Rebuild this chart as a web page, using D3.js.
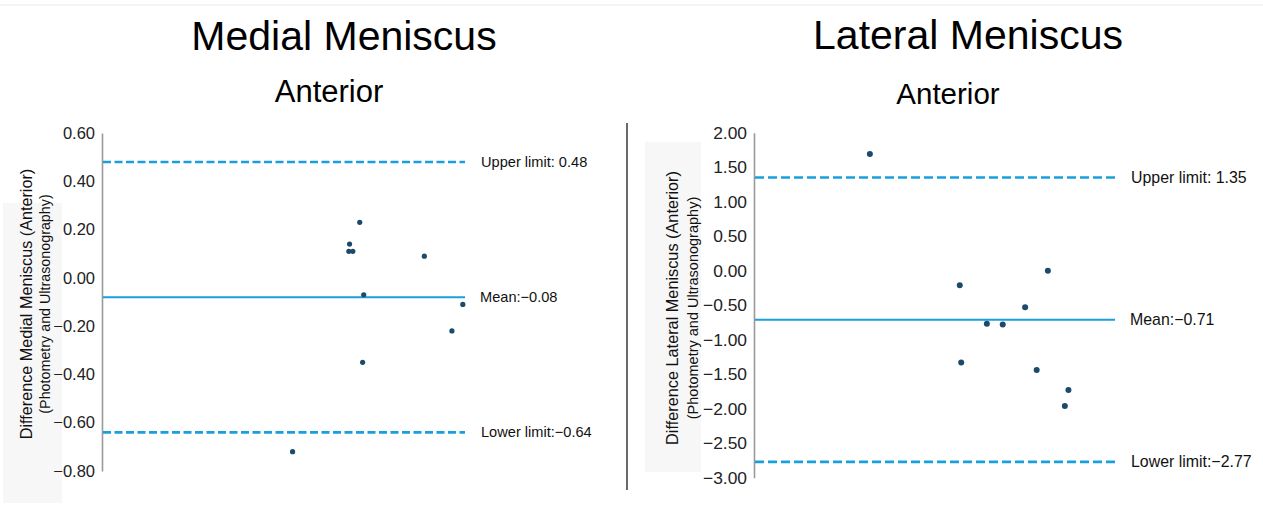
<!DOCTYPE html>
<html>
<head>
<meta charset="utf-8">
<script src="https://cdn.jsdelivr.net/npm/d3@7"></script>
<style>
  html, body { margin: 0; padding: 0; background: #fff; }
  svg { display: block; font-family: "Liberation Sans", Arial, sans-serif; }
</style>
</head>
<body>
<svg id="chart" width="1263" height="517"></svg>
<script>
// ---- Data ----
// x = mean of the two methods (no x-axis shown; relative units), y = difference
const medialMean = [5.25, 6.80, 6.82, 6.91, 7.10, 7.18, 7.21, 8.88, 9.64, 9.94];
const medialDiff = [-0.72, 0.11, 0.14, 0.11, 0.23, -0.35, -0.07, 0.09, -0.22, -0.11];
const medialLimits = [0.48, -0.08, -0.64];        // upper, mean, lower
const medialTicks = [0.6, 0.4, 0.2, 0.0, -0.2, -0.4, -0.6, -0.8];

const lateralMean = [3.21, 5.70, 5.74, 6.45, 6.89, 7.51, 7.83, 8.14, 8.61, 8.71];
const lateralDiff = [1.69, -0.21, -1.33, -0.77, -0.78, -0.53, -1.44, 0.00, -1.96, -1.73];
const lateralLimits = [1.35, -0.71, -2.77];
const lateralTicks = [2.0, 1.5, 1.0, 0.5, 0.0, -0.5, -1.0, -1.5, -2.0, -2.5, -3.0];

const limitNames = ["Upper limit: ", "Mean:", "Lower limit:"];
const titles = ["Medial Meniscus", "Lateral Meniscus"];
const subtitle = "Anterior";
const yTitles = ["Difference Medial Meniscus (Anterior)", "Difference Lateral Meniscus (Anterior)"];
const yTitle2 = "(Photometry and Ultrasonography)";

// ---- Drawing ----
const svg = d3.select("#chart");
const lineColor = "#1a9fde";
const dotColor = "#1c4a6a";
const fmt = d3.format(".2f");

// faint top rule
svg.append("line").attr("x1", 0).attr("x2", 1263).attr("y1", 5).attr("y2", 5)
  .attr("stroke", "#f1f1f1").attr("stroke-width", 1.5);

// separator
svg.append("line").attr("x1", 627).attr("x2", 627).attr("y1", 123).attr("y2", 490)
  .attr("stroke", "#444").attr("stroke-width", 1.6);

const panels = [
  {
    means: medialMean, diffs: medialDiff, limits: medialLimits, ticks: medialTicks,
    yDomain: [-0.8, 0.6], yRange: [471, 133], xRange: [102, 465],
    title: titles[0], titleX: 344, titleY: 50, titleSize: 41,
    subX: 329, subY: 102, subSize: 31,
    yT1: yTitles[0], yT1x: 32, yT2x: 50, yTy: 304, yT1size: 16.2, yT2size: 14.3,
    grayRect: [3, 203, 59, 300],
    tickSize: 16.5, labelSize: 14.6, labelX: 481, dash: "8,3.5", r: 2.6
  },
  {
    means: lateralMean, diffs: lateralDiff, limits: lateralLimits, ticks: lateralTicks,
    yDomain: [-3, 2], yRange: [477.7, 132.7], xRange: [754, 1115],
    title: titles[1], titleX: 968, titleY: 49, titleSize: 41,
    subX: 948, subY: 104, subSize: 29.5,
    yT1: yTitles[1], yT1x: 678, yT2x: 698, yTy: 308, yT1size: 16.3, yT2size: 14.5,
    grayRect: [645, 142, 56, 330],
    tickSize: 17.4, labelSize: 15.9, labelX: 1131, dash: "9,4", r: 3
  }
];

panels.forEach(p => {
  const g = svg.append("g");
  const y = d3.scaleLinear().domain(p.yDomain).range(p.yRange);
  const x = d3.scaleLinear().domain([0, 10]).range(p.xRange);

  // light grey panel behind the y-title
  g.append("rect").attr("x", p.grayRect[0]).attr("y", p.grayRect[1])
    .attr("width", p.grayRect[2]).attr("height", p.grayRect[3]).attr("fill", "#f7f7f7");

  // titles
  g.append("text").attr("x", p.titleX).attr("y", p.titleY).attr("text-anchor", "middle")
    .attr("font-size", p.titleSize).attr("fill", "#000").text(p.title);
  g.append("text").attr("x", p.subX).attr("y", p.subY).attr("text-anchor", "middle")
    .attr("font-size", p.subSize).attr("fill", "#000").text(subtitle);

  // y-axis titles
  g.append("text").attr("transform", `translate(${p.yT1x},${p.yTy}) rotate(-90)`)
    .attr("text-anchor", "middle").attr("font-size", p.yT1size).attr("fill", "#111").text(p.yT1);
  g.append("text").attr("transform", `translate(${p.yT2x},${p.yTy}) rotate(-90)`)
    .attr("text-anchor", "middle").attr("font-size", p.yT2size).attr("fill", "#111").text(yTitle2);

  // y axis
  const axis = d3.axisLeft(y).tickValues(p.ticks).tickFormat(fmt).tickSize(0).tickPadding(7);
  const ag = g.append("g").attr("transform", `translate(${p.xRange[0]},0)`).call(axis);
  ag.select(".domain").attr("stroke", "#9a9a9a").attr("stroke-width", 1.6);
  ag.selectAll(".tick text").attr("font-size", p.tickSize).attr("fill", "#222")
    .attr("font-family", "Liberation Sans, Arial, sans-serif");

  // limit lines
  g.selectAll(".lim").data(p.limits).join("line")
    .attr("x1", p.xRange[0] + 1).attr("x2", p.xRange[1])
    .attr("y1", d => y(d)).attr("y2", d => y(d))
    .attr("stroke", lineColor)
    .attr("stroke-width", (d, i) => i === 1 ? 2 : 2.6)
    .attr("stroke-dasharray", (d, i) => i === 1 ? null : p.dash);

  // limit labels
  g.selectAll(".limlab").data(p.limits).join("text")
    .attr("x", (d, i) => i === 1 ? p.labelX - 1 : p.labelX)
    .attr("y", d => y(d)).attr("dy", "0.35em")
    .attr("font-size", p.labelSize).attr("fill", "#111")
    .text((d, i) => limitNames[i] + fmt(d));

  // points
  g.selectAll(".pt").data(p.means.map((m, i) => [m, p.diffs[i]])).join("circle")
    .attr("cx", d => x(d[0])).attr("cy", d => y(d[1])).attr("r", p.r)
    .attr("fill", dotColor);
});
</script>
</body>
</html>
